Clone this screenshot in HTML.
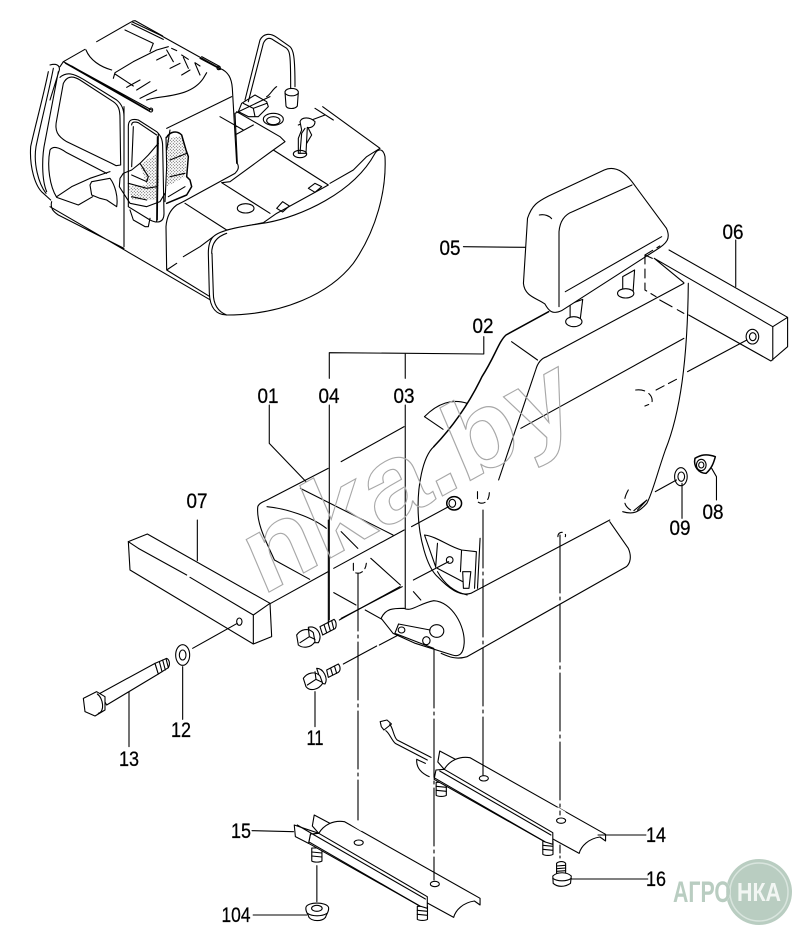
<!DOCTYPE html>
<html><head><meta charset="utf-8"><style>
html,body{margin:0;padding:0;background:#fff}
svg{display:block}
path,line,ellipse,polygon,circle{fill:none;stroke:#000;stroke-width:1.1;vector-effect:non-scaling-stroke;stroke-linecap:round;stroke-linejoin:round}
.w{fill:#fff}
.t{stroke-width:1.5}
text.n{font-family:"Liberation Sans",sans-serif;font-size:21px;fill:#000;stroke:#000;stroke-width:.25px;text-anchor:middle}
</style></head><body>
<svg width="808" height="945" viewBox="0 0 808 945" xmlns="http://www.w3.org/2000/svg">
<defs>
<pattern id="dots" width="9" height="9" patternUnits="userSpaceOnUse"><rect x="1" y="1" width="2.6" height="2.6" fill="#222"/><rect x="5.5" y="5.5" width="2.6" height="2.6" fill="#222"/></pattern>
<g id="stud"><path class="w" d="M-5,-14 L5,-14 L5,12 C3,15 -3,15 -5,12 Z"/><path d="M-5,-6 L5,-4 M-5,2 L5,4"/></g>
<g id="rail">
 <path class="w" d="M245,378 L250,345 L295,372 L262,400 Z"/>
 <path class="w" d="M262,400 C275,375 300,360 330,365 L690,595 L690,615 L675,603 C645,608 625,630 620,652 L555,612 L245,420 Z"/>
 <path class="w" d="M240,402 L262,400 L550,590 L550,625 L530,618 L235,430 Z"/>
 <path d="M250,405 L545,597"/>
 <path d="M235,425 L530,618"/>
</g>
</defs>
<rect width="808" height="945" style="fill:#fff;stroke:none"/>

<!-- Excavator cab -->
<g transform="scale(.33333)">
 <path d="M190,185 L255,148 M290,125 L395,65 M395,65 L480,105 L660,205 C685,215 695,235 697,265 L710,490"/>
 <path d="M395,72 L490,118 M600,175 L662,208 M398,63 L405,62 L488,108 M605,170 L660,200"/>
 <ellipse cx="656" cy="204" rx="5" ry="5"/>
 <path d="M190,185 L455,330 M196,190 L450,335 M190,185 L180,200 M215,198 L445,330"/>
 <ellipse cx="453" cy="330" rx="5" ry="6"/>
 <path d="M258,150 C270,180 300,200 335,210 M340,235 L345,218 L400,185 L470,150 L505,140 M380,262 L420,240 M345,222 L400,258 M500,150 L520,185 M550,172 L565,205 M585,190 L600,225 M515,145 L530,152 M545,165 L565,178 M585,188 L600,198 M410,270 L450,245 M440,300 C480,285 570,295 610,235 L620,218 M420,295 L470,270 M375,90 L460,130 L450,155 M500,165 L470,180 M540,190 L510,205 M570,210 L545,225"/>
 <path d="M150,195 C168,190 180,195 178,210 L150,300 M145,215 C130,290 100,400 92,440 C88,500 105,560 130,580 L152,600 M160,205 C150,260 120,380 108,440 C100,490 115,550 138,580 M175,215 L135,425 C125,470 125,540 140,575"/>
 <path d="M190,250 C200,230 215,225 240,240 L340,305 C356,316 360,330 360,355 L362,495 L348,497 L335,490 L200,425 C172,408 163,392 170,360 Z"/>
 <path d="M180,232 C200,215 220,220 250,238 L350,300 C365,312 372,330 372,350 M150,450 C158,438 175,440 200,458 L320,520 M150,450 C140,500 150,560 170,592 L235,615 L278,590 M170,590 L215,560 L270,535 L330,515 M155,605 C150,625 160,635 175,645 L372,745 M150,620 L640,905 M372,320 L372,740"/>
 <path d="M385,380 C385,360 395,355 415,360 L470,395 C480,405 488,415 488,440 M385,380 L385,620 M395,375 C395,365 405,365 415,368 L470,405 M400,380 L395,500 M472,410 L470,665 M475,400 L472,660 M488,440 L492,640 C492,670 470,670 450,660 L385,620"/>
 <path style="fill:url(#dots);stroke:none" d="M502,415 L545,408 L560,470 L555,530 L500,560 Z"/>
 <path style="fill:url(#dots);stroke:none" d="M420,495 L470,460 L478,540 L470,600 L395,600 L385,560 L440,555 Z"/>
 <path class="t" d="M500,412 C510,395 530,390 545,405 L558,450 L565,470 L560,530 L570,540 L575,560 L560,585 L500,610"/>
 <path d="M498,412 L500,500 L495,605 M475,430 L445,465 L420,490 L395,510 L370,520 L360,535 L358,560 L390,610 L440,620 L480,605 L495,580 M420,490 L445,530 L440,545 L395,525 M385,550 L440,565 L470,560 M395,590 L440,600 M390,630 L400,660 L435,680 L445,680 L450,655 M505,590 L555,560 M510,480 L560,460 M510,530 L555,520 M270,555 L275,545 L330,535 C345,555 355,590 350,620 L320,600 L300,595 L275,585 Z"/>
 <path d="M500,385 L695,290 M510,390 L500,450 M705,340 L712,490 C720,505 710,515 705,520 L550,605 L530,615 C510,630 500,650 498,680 L500,810 L630,890 M500,810 L530,790 M550,770 L600,740 L640,710 M705,340 L810,290 M705,405 L760,375 M730,390 L660,350"/>
 <path d="M710,335 L840,410 L855,425 L820,450 L985,555 L830,640 L790,668 L680,690 M820,450 L690,545 M680,690 L555,610 M665,548 L810,640 M690,545 L665,548 M968,320 L1140,445 M895,375 L975,345 M990,550 L1060,510 L1100,470 L1140,445 M945,325 L1000,360"/>
 <ellipse cx="737" cy="625" rx="25" ry="14"/>
 <path d="M830,625 L848,605 L868,618 L848,636 Z M925,565 L945,550 L965,560 L945,577 Z"/>
 <path class="w" d="M640,710 C660,690 720,680 800,668 C900,650 1060,580 1125,460 C1135,445 1150,445 1155,470 C1160,570 1130,690 1060,790 C990,880 850,945 680,945 C650,945 630,925 628,880 L625,760 C625,735 630,720 640,710 Z"/>
 <path d="M635,760 C635,730 650,710 680,700 M636,760 L640,880 C640,915 655,935 680,945"/>
 <path d="M715,335 L725,310 L765,285 L800,305 L805,320 L775,350 L745,350 Z M730,310 L760,325 L800,310 M760,325 L765,350 M735,300 L780,120 C790,100 810,98 830,112 L870,140 C880,150 885,165 885,260 M745,305 L790,130 C798,112 810,112 820,120 L860,145 C870,155 872,165 872,265"/>
 <path class="w" d="M855,275 C860,262 890,262 895,275 L892,318 C885,328 862,328 858,318 Z"/>
 <path d="M855,280 C865,290 885,290 895,280 M830,260 C820,265 810,285 800,290"/>
 <ellipse cx="820" cy="358" rx="30" ry="18"/><ellipse cx="820" cy="362" rx="20" ry="12"/>
 <path class="w" d="M900,365 C905,350 930,350 945,365 C945,380 930,385 922,382 L918,460 L895,460 L895,415 L905,390 Z"/>
 <ellipse cx="900" cy="462" rx="20" ry="11"/>
 <path d="M915,385 L905,400 L900,460 M925,385 L935,405 L920,430"/>
</g>

<!-- Seat -->
<g transform="translate(230,160) scale(.3705,.33333)">
 <!-- cushion -->
 <path d="M75,1040 C78,1030 90,1025 100,1020 L265,925 M300,905 L470,800 M525,770 C560,730 600,715 640,730 M75,1040 C70,1090 100,1150 120,1200 L215,1258 M280,1298 L340,1335 M365,1350 L410,1378"/>
 <path d="M100,1040 C150,1045 220,1070 260,1105 M190,985 L440,1125 M300,1115 L345,1165 M380,1195 L460,1275 M495,1295 L515,1320 M525,770 L575,808"/>
 <path d="M1025,1085 L1075,1165 C1085,1190 1080,1210 1070,1220 L640,1490 C610,1500 590,1490 570,1480"/>
 <!-- back -->
 <path style="fill:#fff;stroke:none" d="M860,455 L745,525 C725,545 715,590 680,650 C650,720 610,790 550,860 C520,890 505,980 508,1060 C510,1130 530,1220 560,1250 C590,1285 620,1310 650,1300 L1025,1080 L1060,1055 C1090,1065 1105,1055 1125,1030 C1140,1000 1150,950 1175,870 C1215,760 1235,600 1237,370 L1100,300 Z"/>
 <path class="t" d="M860,455 L745,525 C725,545 715,590 680,650 C650,720 610,790 550,860"/>
 <path d="M550,860 C520,890 505,980 508,1060 C510,1130 530,1220 560,1250 C590,1285 620,1310 650,1300 L1025,1080 M1237,370 C1235,600 1215,760 1175,870 C1150,950 1140,1000 1125,1030 C1105,1055 1090,1065 1060,1055"/>
 <path d="M855,590 L1225,370 M855,590 C840,595 830,610 825,630 L725,960 M785,805 L1225,535 M760,545 L830,600 M1090,1052 L1125,1020 L1100,1050"/>
 <path d="M1150,690 L1210,655 M1095,690 C1125,685 1145,710 1138,730 L1120,738" style="stroke-dasharray:9 5"/>
 <path d="M1075,990 C1060,1020 1060,1040 1090,1055" style="stroke-dasharray:9 5"/>
 <path d="M668,995 L668,1025 C680,1035 700,1030 700,995 M333,1210 L333,1235 C345,1245 365,1240 368,1210 M885,1130 C885,1110 910,1115 905,1130" style="stroke-dasharray:7 4"/>
 <!-- mechanism -->
 <path d="M525,1125 C560,1130 590,1160 625,1170 L665,1175 M525,1125 L555,1220 M560,1150 L555,1222 M625,1170 L622,1235 M560,1225 L628,1265 M560,1235 C575,1265 600,1295 640,1305 M675,1135 L668,1285 M665,1175 L660,1285"/>
 <path class="w" d="M628,1235 L650,1235 L645,1285 L630,1285 Z"/>
 <ellipse cx="593" cy="1200" rx="9" ry="10"/>
 <ellipse cx="605" cy="1030" rx="20" ry="20" class="t"/><ellipse cx="600" cy="1030" rx="9" ry="12"/>
 <!-- headrest -->
 <path class="w" d="M918,432 L952,418 L945,480 L918,480 Z"/><ellipse cx="928" cy="485" rx="22" ry="15" class="w"/>
 <path class="w" d="M1060,350 L1092,330 L1088,395 L1060,395 Z"/><ellipse cx="1068" cy="400" rx="22" ry="14" class="w"/>
 <path class="w" d="M803,175 C815,135 830,125 860,108 L1010,30 C1035,18 1060,30 1085,65 L1178,205 C1190,235 1180,250 1150,270 L895,452 C870,465 860,452 850,432 C830,415 795,410 792,370 Z"/>
 <path d="M888,440 L888,215 C890,190 900,165 925,155 L1085,75 M905,395 L1165,230 M835,165 C850,162 862,168 868,176"/>
 <path d="M1120,285 L1160,258 M1120,285 L1120,390 L1150,410 M1120,285 L1140,295" style="stroke-dasharray:9 5"/>
 <path d="M1160,420 L1225,460" style="stroke-dasharray:14 6"/>
 <!-- bar 06 -->
 <path d="M1185,270 L1505,472 L1505,560 L1460,603 L1238,465 M1145,295 L1465,500 L1505,472 M1465,500 L1465,600 M1225,368 L1145,295"/>
 <ellipse cx="1410" cy="530" rx="17" ry="22"/><ellipse cx="1411" cy="530" rx="9" ry="12"/>
 <path d="M1235,635 L1395,540 M1148,995 L1205,960 M490,1100 L590,1040 M280,1225 L470,1110 M110,1330 L265,1235 M495,1260 L590,1205 M300,1375 L465,1280"/>
 <!-- washer 09, cap 08 -->
 <ellipse cx="1217" cy="950" rx="17" ry="27"/><ellipse cx="1218" cy="950" rx="9" ry="14"/>
 <path class="t" d="M1255,895 C1270,885 1285,880 1310,890 C1305,910 1300,925 1285,940 C1265,940 1250,920 1255,895 Z"/><ellipse cx="1272" cy="915" rx="13" ry="17"/><ellipse cx="1272" cy="915" rx="7" ry="9"/>
 <!-- bracket -->
 <path class="w" d="M408,1375 C420,1345 440,1345 470,1345 C490,1357 510,1330 550,1322 C600,1325 635,1400 632,1450 C630,1480 620,1492 600,1485 L500,1450 L440,1420 Z"/>
 <path d="M455,1392 L540,1410 M455,1392 L445,1420 L550,1465"/>
 <ellipse cx="558" cy="1413" rx="19" ry="19"/><ellipse cx="530" cy="1442" rx="10" ry="12"/><ellipse cx="463" cy="1410" rx="9" ry="9"/>
 <!-- leaders -->
 <path d="M685,530 L685,582 L268,578 L268,655 M473,582 L473,655 M268,735 L268,1380 M473,735 L473,1345 M106,735 L106,850 L205,965 M630,260 L797,262 M1365,240 L1365,380 M1300,925 L1313,950 L1313,1020 M1220,970 L1220,1075"/>
</g>

<!-- Bar 07, bolts -->
<g transform="translate(60,520) scale(.33333)">
 <path class="w" d="M205,65 L262,42 L630,250 L635,350 L580,372 L210,150 Z"/>
 <path d="M235,85 L380,165 M390,172 L580,285 L630,250 M580,285 L580,372 M205,65 L235,85"/>
 <ellipse cx="538" cy="305" rx="8" ry="11"/>
 <path d="M398,385 L532,310 M412,0 L412,122"/>
 <ellipse cx="368" cy="405" rx="21" ry="31"/><ellipse cx="368" cy="405" rx="10" ry="15"/>
 <path d="M368,440 L368,598 M207,515 L207,680"/>
 <path class="w" d="M120,520 L285,430 L295,462 L140,555 Z"/>
 <path class="w" d="M285,430 L320,415 C330,420 330,435 325,443 L295,462 Z"/>
 <path d="M298,425 L306,455 M308,420 L316,450 M318,416 L325,443"/>
 <path class="w" d="M70,535 L110,515 L135,530 L135,570 L105,588 L75,575 Z"/>
 <path d="M115,580 C135,575 130,535 112,522"/>
 <!-- bolt 04 -->
 <path class="w" d="M780,320 L822,298 C830,305 830,320 825,326 L788,345 Z"/>
 <path d="M792,314 L800,338 M804,308 L811,332 M815,302 L821,326"/>
 <path class="w" d="M745,322 C770,315 790,345 775,368 L760,368 Z"/>
 <path class="w" d="M710,345 C722,328 745,322 760,338 L765,365 C752,385 728,385 715,375 Z"/>
 <path d="M745,325 L748,350 L720,368 M748,350 L765,358"/>
 <!-- bolt 11 -->
 <path class="w" d="M800,450 L835,432 C842,440 842,452 835,457 L805,472 Z"/>
 <path d="M812,445 L818,465 M824,440 L830,460"/>
 <path class="w" d="M770,445 C790,445 805,475 795,492 L785,490 Z"/>
 <path class="w" d="M730,475 C742,458 765,452 780,468 L788,490 C775,510 750,515 738,500 Z"/>
 <path d="M765,455 L768,478 L742,495 M768,478 L785,486"/>
 <path d="M765,515 L765,620 M805,0 L805,310 M838,300 L1020,200 M850,432 L950,378 M958,375 L1015,345"/>
</g>

<!-- Rails -->
<g transform="translate(220,700) scale(.3769,.33333)">
 <path d="M425,65 L443,60 L455,72 L435,90 L428,80 Z M450,72 C460,85 460,110 470,120 L560,172 M440,92 C450,100 455,120 465,130 L550,180"/>
 <path d="M522,178 C520,205 535,220 555,230 M522,178 L545,190"/>
 <use href="#stud" transform="translate(587,268) scale(2.7,1.5)"/>
 <use href="#stud" transform="translate(870,445) scale(2.7,1.5)"/>
 <g transform="translate(333,-192)"><use href="#rail"/></g>
 <path style="stroke:#fff;stroke-width:3" d="M897,327 L913,338"/>
 <use href="#stud" transform="translate(257,465) scale(2.7,1.5)"/>
 <use href="#stud" transform="translate(537,640) scale(2.7,1.5)"/>
 <use href="#rail"/>
 <path style="stroke:#fff;stroke-width:3" d="M352,372 L375,388"/>
 <path class="w" d="M197,375 L262,400 L240,402 L235,430 L200,410 Z"/>
 <path d="M205,375 L250,405"/>
 <ellipse cx="700" cy="235" rx="12" ry="8"/><ellipse cx="905" cy="362" rx="12" ry="8"/>
 <ellipse cx="368" cy="428" rx="12" ry="8"/><ellipse cx="570" cy="552" rx="12" ry="8"/>
 <path d="M85,392 L195,395 M1003,405 L1130,405 M930,537 L1135,537 M88,645 L230,645 M257,497 L257,605"/>
 <!-- 16 -->
 <path class="w" d="M893,490 C900,483 912,483 917,490 L917,520 L893,520 Z"/>
 <path d="M893,498 L917,496 M893,506 L917,504 M893,514 L917,512"/>
 <path class="w" d="M883,528 C895,515 920,515 932,528 L930,550 C915,562 895,562 884,550 Z"/>
 <path d="M883,535 C895,545 920,545 932,535"/>
 <!-- 104 -->
 <path class="w" d="M228,622 C232,605 282,605 288,622 C290,635 283,640 280,652 C270,665 245,665 236,652 C233,640 226,635 228,622 Z"/>
 <ellipse cx="257" cy="625" rx="14" ry="9"/>
 <path d="M232,640 C245,650 270,650 284,640"/>
</g>

<!-- projection lines -->
<path d="M358,573 L358,820" style="stroke-dasharray:58 4 3 4"/>
<path d="M434,650 L434,880" style="stroke-dasharray:58 4 3 4"/>
<path d="M483,510 L483,775" style="stroke-dasharray:58 4 3 4"/>
<path d="M560,535 L560,815" style="stroke-dasharray:58 4 3 4"/>
<path d="M560,845 L560,858" style="stroke-dasharray:8 3"/>

<!-- Watermark -->
<text transform="translate(262,596) rotate(-29) skewX(-6)" textLength="365" lengthAdjust="spacingAndGlyphs" style="font-family:'Liberation Sans',sans-serif;font-size:108px;font-weight:bold;fill:none;stroke:#a8a8a8;stroke-width:1.1">nka.by</text>

<!-- Labels -->
<text class="n" x="268" y="403" textLength="21" lengthAdjust="spacingAndGlyphs">01</text>
<text class="n" x="483" y="333" textLength="21" lengthAdjust="spacingAndGlyphs">02</text>
<text class="n" x="404" y="403" textLength="21" lengthAdjust="spacingAndGlyphs">03</text>
<text class="n" x="329" y="403" textLength="21" lengthAdjust="spacingAndGlyphs">04</text>
<text class="n" x="450" y="255" textLength="21" lengthAdjust="spacingAndGlyphs">05</text>
<text class="n" x="733" y="239" textLength="21" lengthAdjust="spacingAndGlyphs">06</text>
<text class="n" x="197" y="508" textLength="21" lengthAdjust="spacingAndGlyphs">07</text>
<text class="n" x="713" y="519" textLength="21" lengthAdjust="spacingAndGlyphs">08</text>
<text class="n" x="680" y="535" textLength="21" lengthAdjust="spacingAndGlyphs">09</text>
<text class="n" x="315" y="745" textLength="17" lengthAdjust="spacingAndGlyphs">11</text>
<text class="n" x="181" y="737" textLength="20" lengthAdjust="spacingAndGlyphs">12</text>
<text class="n" x="129" y="766" textLength="20" lengthAdjust="spacingAndGlyphs">13</text>
<text class="n" x="656" y="842" textLength="20" lengthAdjust="spacingAndGlyphs">14</text>
<text class="n" x="241" y="838" textLength="20" lengthAdjust="spacingAndGlyphs">15</text>
<text class="n" x="656" y="886" textLength="20" lengthAdjust="spacingAndGlyphs">16</text>
<text class="n" x="236" y="922" textLength="29" lengthAdjust="spacingAndGlyphs">104</text>

<!-- Logo -->
<circle cx="759" cy="892" r="33" style="fill:#b9cdc1;stroke:none"/>
<circle cx="759" cy="892" r="29" style="fill:none;stroke:#d9e5de;stroke-width:1.5"/>
<text x="673" y="902" textLength="58" lengthAdjust="spacingAndGlyphs" style="font-family:'Liberation Sans',sans-serif;font-weight:bold;font-size:30px;fill:#b9cdc1;stroke:#fff;stroke-width:.4px;paint-order:stroke">АГРО</text>
<text x="737" y="901" textLength="44" lengthAdjust="spacingAndGlyphs" style="font-family:'Liberation Sans',sans-serif;font-weight:bold;font-size:26px;fill:#f2f6f3">НКА</text>
</svg>
</body></html>
